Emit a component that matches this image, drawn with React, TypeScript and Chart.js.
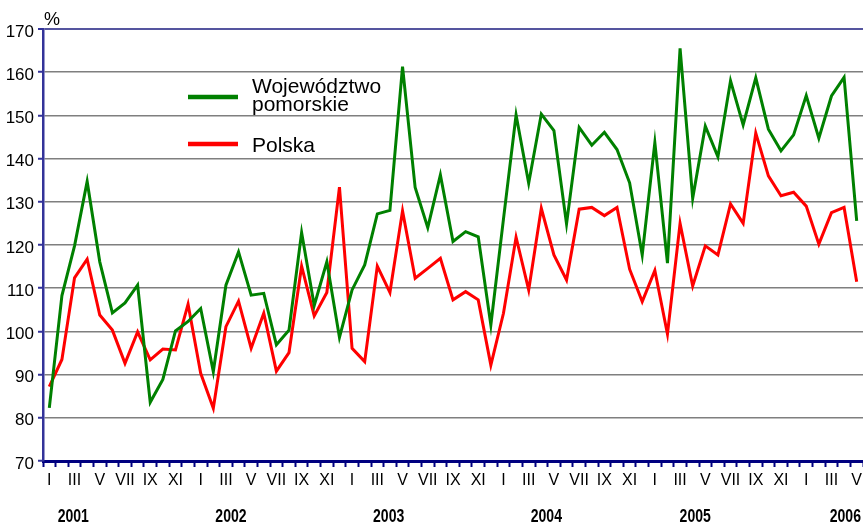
import React, { useEffect, useRef } from "react";
import { Chart, registerables } from "chart.js";

Chart.register(...registerables);

const monthLabels = ["I", "II", "III", "IV", "V", "VI", "VII", "VIII", "IX", "X", "XI", "XII"];
const years = ["2001", "2002", "2003", "2004", "2005", "2006"];
// fractional category index where each year label is centred
const yearAnchors = [1.9, 14.4, 26.9, 39.4, 51.2, 63.1];

const categories: string[] = [];
for (let y = 0; y < years.length; y++) {
  for (let m = 0; m < 12; m++) {
    if (y === years.length - 1 && m > 4) break;
    categories.push(monthLabels[m]);
  }
}

const pomorskie = [
  82.3, 108.3, 119.8, 134.7, 116.1, 104.3, 106.6, 110.7, 83.6, 88.9, 100.1, 102.3,
  105.3, 90.7, 110.7, 118.4, 108.4, 108.8, 96.9, 100.3, 122.9, 106.0, 116.1, 98.6,
  109.6, 115.4, 127.2, 128.0, 161.3, 133.3, 124.0, 136.2, 120.8, 123.1, 121.9, 101.5,
  126.0, 150.1, 134.3, 150.3, 146.5, 124.9, 147.2, 143.1, 146.1, 142.1, 134.4, 117.7,
  143.7, 115.8, 165.5, 130.8, 147.5, 140.4, 158.0, 147.8, 158.7, 146.8, 141.8, 145.5,
  154.6, 144.7, 154.5, 158.8, 125.6,
];

const polska = [
  87.2, 93.5, 112.4, 116.7, 103.8, 100.3, 92.6, 99.9, 93.4, 95.9, 95.7, 106.3,
  90.3, 82.2, 101.1, 107.0, 96.1, 104.2, 90.8, 95.1, 115.1, 103.6, 109.0, 133.4,
  96.1, 93.0, 115.1, 109.0, 127.9, 112.3, 114.6, 116.9, 107.3, 109.2, 107.3, 92.2,
  104.2, 121.8, 109.6, 128.5, 117.7, 111.9, 128.3, 128.7, 126.8, 128.7, 114.4, 106.9,
  114.1, 99.4, 125.0, 110.5, 119.8, 117.7, 129.5, 125.0, 145.9, 136.0, 131.4, 132.2,
  129.0, 120.2, 127.5, 128.7, 111.5,
];

const seriesNames = [["Województwo", "pomorskie"], ["Polska"]];
const seriesColors = ["#008000", "#ff0000"];

const TEXT_FONT = "'Liberation Sans', Arial, sans-serif";

const extrasPlugin = {
  id: "extras",
  afterDraw(chart: any) {
    const ctx = chart.ctx;
    const xs = chart.scales.x;
    ctx.save();
    // % unit
    ctx.fillStyle = "#000";
    ctx.font = `18px ${TEXT_FONT}`;
    ctx.textAlign = "left";
    ctx.textBaseline = "alphabetic";
    ctx.fillText("%", 44, 25);

    // year labels (condensed bold)
    ctx.font = `bold 18px ${TEXT_FONT}`;
    ctx.textAlign = "center";
    years.forEach((yr, i) => {
      const x = xs.getPixelForValue(yearAnchors[i]);
      ctx.save();
      ctx.translate(x, 521.5);
      ctx.scale(0.78, 1);
      ctx.fillText(yr, 0, 0);
      ctx.restore();
    });

    // legend
    const entries = [
      { y: 97, textY: [93, 111] },
      { y: 144, textY: [152] },
    ];
    entries.forEach((e, i) => {
      ctx.strokeStyle = seriesColors[i];
      ctx.lineWidth = 4.5;
      ctx.beginPath();
      ctx.moveTo(188, e.y);
      ctx.lineTo(238, e.y);
      ctx.stroke();
      ctx.fillStyle = "#000";
      ctx.font = `21px ${TEXT_FONT}`;
      ctx.textAlign = "left";
      seriesNames[i].forEach((t, j) => ctx.fillText(t, 252, e.textY[j]));
    });
    ctx.restore();
  },
};

export default function App() {
  const ref = useRef<HTMLCanvasElement>(null);
  useEffect(() => {
    document.body.style.margin = "0";
    const chart = new Chart(ref.current!, {
      type: "line",
      data: {
        labels: categories,
        datasets: [
          {
            label: "Województwo pomorskie",
            data: pomorskie,
            borderColor: seriesColors[0],
            borderWidth: 3,
            pointRadius: 0,
            tension: 0,
            fill: false,
          },
          {
            label: "Polska",
            data: polska,
            borderColor: seriesColors[1],
            borderWidth: 3,
            pointRadius: 0,
            tension: 0,
            fill: false,
          },
        ],
      },
      options: {
        animation: false,
        responsive: true,
        maintainAspectRatio: false,
        layout: { padding: { top: 29, left: 0, right: -2, bottom: 0 } },
        plugins: { legend: { display: false }, tooltip: { enabled: false } },
        scales: {
          x: {
            type: "category",
            offset: true,
            afterFit: (s: any) => {
              s.height = 61;
              s.paddingLeft = 0;
              s.paddingRight = 0;
            },
            grid: {
              offset: true,
              drawOnChartArea: false,
              drawTicks: true,
              tickLength: 6,
              tickColor: "#000080",
              tickWidth: 2,
            },
            border: { color: "#000080", width: 3 },
            ticks: {
              autoSkip: false,
              maxRotation: 0,
              padding: 4,
              color: "#000",
              font: { size: 16, family: TEXT_FONT },
              callback: (v: any, i: number) => (i % 2 === 0 ? categories[i] : ""),
            },
          },
          y: {
            min: 70,
            max: 170,
            afterFit: (s: any) => {
              s.width = 43;
            },
            grid: {
              color: (c: any) => (c.tick && c.tick.value === 170 ? "#55559f" : "#7f7f7f"),
              lineWidth: (c: any) => (c.tick && c.tick.value === 170 ? 2 : 1.5),
              tickColor: "#333399",
              tickLength: 5,
              tickWidth: 2,
            },
            border: { color: "#333399", width: 2.5 },
            ticks: {
              stepSize: 10,
              padding: 4,
              labelOffset: 3,
              color: "#000",
              font: { size: 17, family: TEXT_FONT },
            },
          },
        },
      },
      plugins: [extrasPlugin],
    });
    return () => chart.destroy();
  }, []);
  return (
    <div style={{ width: 863, height: 522, position: "relative", background: "#fff" }}>
      <canvas ref={ref} />
    </div>
  );
}
